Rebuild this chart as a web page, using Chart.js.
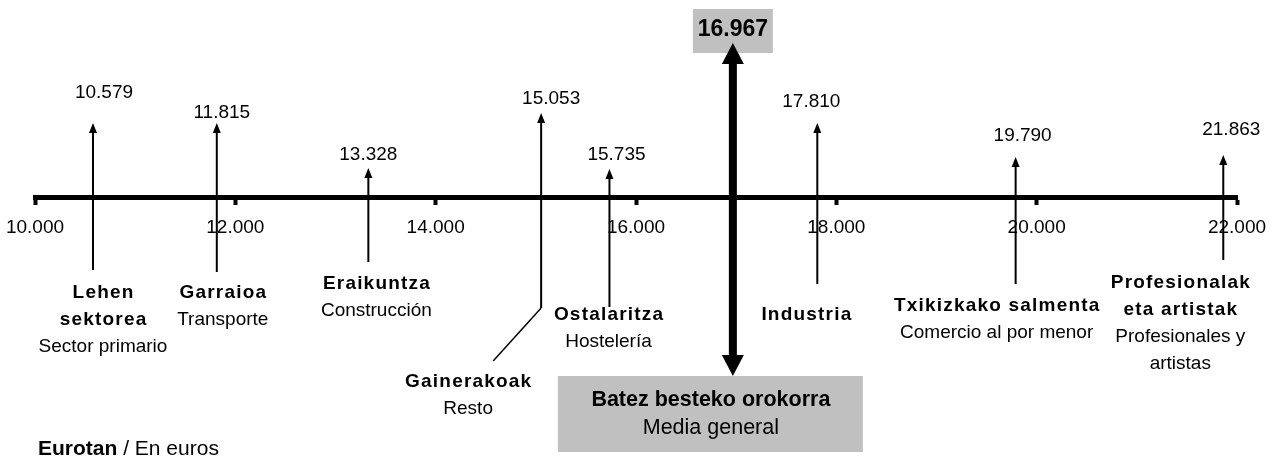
<!DOCTYPE html>
<html><head><meta charset="utf-8">
<script src="https://cdn.jsdelivr.net/npm/chart.js@4.4.1/dist/chart.umd.min.js"></script>
<style>html,body{margin:0;padding:0;background:#fff;} canvas{display:block;}</style>
</head><body>
<canvas id="c" width="1276" height="459"></canvas>
<script>
// ---------------- data ----------------
const sectorsEu = [['Lehen','sektorea'],['Garraioa'],['Eraikuntza'],['Gainerakoak'],['Ostalaritza'],['Industria'],['Txikizkako salmenta'],['Profesionalak','eta artistak']];
const sectorsEs = [['Sector primario'],['Transporte'],['Construcción'],['Resto'],['Hostelería'],[],['Comercio al por menor'],['Profesionales y','artistas']];
const salaries = [10579, 11815, 13328, 15053, 15735, 17810, 19790, 21863];
const overallMean = 16967;
const meanLabelEu = 'Batez besteko orokorra';
const meanLabelEs = 'Media general';
const tickValues = [10000, 12000, 14000, 16000, 18000, 20000, 22000];
const unitEu = 'Eurotan';
const unitEs = ' / En euros';

// ---------------- layout (units = px above the axis line) ----------------
const arrowTop    = [74, 74, 29, 84, 28, 74, 40, 42];
const arrowBottom = [-73, -75, -65, -111, -110, -87, -87, -63];
const valueDx     = [11, 5, 0, 10, 7, -6, 7, 8];
const valueY      = [104, 84, 42, 98, 42, 95, 61, 67];
const labelDx     = [10, 6, 8, -73, -1, -11, -19, -43];
const labelY      = [-96, -96, -87, -185, -118, -118, -109, -86];
const leader      = {index: 3, dx: -48, dy: -53};
const meanTop = 154, meanBottom = -179;
const LINE = 27;
const FONT = '"Liberation Sans", Arial, sans-serif';

const fmt = n => String(n).replace(/\B(?=(\d{3})+(?!\d))/g, '.');

const datasets = salaries.map((v, i) => ({
  data: [{x: v, y: arrowTop[i] - 6}, {x: v, y: arrowBottom[i]}],
  showLine: true, borderColor: '#000', borderWidth: 2, pointRadius: 0
}));
datasets.push({
  data: [{x: overallMean, y: meanTop - 18}, {x: overallMean, y: meanBottom + 18}],
  showLine: true, borderColor: '#000', borderWidth: 8, pointRadius: 0
});

function head(ctx, x, yTip, w, h, dir) {
  ctx.beginPath();
  ctx.moveTo(x, yTip);
  ctx.lineTo(x - w / 2, yTip - dir * h);
  ctx.lineTo(x + w / 2, yTip - dir * h);
  ctx.closePath();
  ctx.fill();
}
function lines(ctx, arr, x, y, bold, size, spacing) {
  ctx.font = (bold ? 'bold ' : '') + size + 'px ' + FONT;
  ctx.letterSpacing = (spacing || 0) + 'px';
  arr.forEach((t, k) => ctx.fillText(t, x + (spacing || 0) / 2, y + k * LINE));
  ctx.letterSpacing = '0px';
  return arr.length;
}

const decor = {
  id: 'decor',
  beforeDatasetsDraw(chart) {
    const ctx = chart.ctx, xs = chart.scales.x, ys = chart.scales.y;
    const mx = xs.getPixelForValue(overallMean);
    ctx.save();
    ctx.fillStyle = '#c0c0c0';
    ctx.fillRect(mx - 40, ys.getPixelForValue(188), 80, ys.getPixelForValue(144) - ys.getPixelForValue(188));
    const bt = ys.getPixelForValue(meanBottom), bb = ys.getPixelForValue(-255);
    ctx.fillRect(mx - 175, bt, 305, bb - bt);
    ctx.fillStyle = '#000';
    ctx.textAlign = 'center'; ctx.textBaseline = 'middle';
    ctx.font = 'bold 23px ' + FONT;
    ctx.fillText(fmt(overallMean), mx, ys.getPixelForValue(167));
    ctx.font = 'bold 21.5px ' + FONT;
    ctx.fillText(meanLabelEu, mx - 22, ys.getPixelForValue(-203));
    ctx.font = '21.5px ' + FONT;
    ctx.fillText(meanLabelEs, mx - 22, ys.getPixelForValue(-231));
    ctx.restore();
  },
  afterDatasetsDraw(chart) {
    const ctx = chart.ctx, xs = chart.scales.x, ys = chart.scales.y;
    ctx.save();
    ctx.fillStyle = '#000'; ctx.strokeStyle = '#000';
    ctx.textAlign = 'center'; ctx.textBaseline = 'middle';
    salaries.forEach((v, i) => {
      const x = xs.getPixelForValue(v);
      head(ctx, x, ys.getPixelForValue(arrowTop[i]), 8, 10, -1);
      ctx.font = '19px ' + FONT;
      ctx.fillText(fmt(v), x + valueDx[i], ys.getPixelForValue(valueY[i]));
      const lx = x + labelDx[i];
      const y0 = ys.getPixelForValue(labelY[i]);
      const n = lines(ctx, sectorsEu[i], lx, y0, true, 19, 1.2);
      lines(ctx, sectorsEs[i], lx, y0 + n * LINE, false, 19, 0);
      if (i === leader.index) {
        const yb = ys.getPixelForValue(arrowBottom[i]);
        ctx.lineWidth = 1.5;
        ctx.beginPath();
        ctx.moveTo(x, yb);
        ctx.lineTo(x + leader.dx, ys.getPixelForValue(arrowBottom[i] + leader.dy));
        ctx.stroke();
      }
    });
    const mx = xs.getPixelForValue(overallMean);
    head(ctx, mx, ys.getPixelForValue(meanTop), 22, 21, -1);
    head(ctx, mx, ys.getPixelForValue(meanBottom), 22, 21, 1);
    ctx.textAlign = 'left';
    const uy = ys.getPixelForValue(-252);
    ctx.font = 'bold 21px ' + FONT;
    ctx.fillText(unitEu, chart.chartArea.left + 3, uy);
    const w = ctx.measureText(unitEu).width;
    ctx.font = '21px ' + FONT;
    ctx.fillText(unitEs, chart.chartArea.left + 3 + w, uy);
    ctx.restore();
  }
};

new Chart(document.getElementById('c'), {
  type: 'scatter',
  data: {datasets},
  plugins: [decor],
  options: {
    responsive: false, animation: false, devicePixelRatio: 1, events: [],
    layout: {padding: {left: 35, right: 39, top: 0, bottom: 0}},
    plugins: {legend: {display: false}, tooltip: {enabled: false}},
    scales: {
      y: {type: 'linear', min: -262, max: 197, display: false},
      x: {
        type: 'linear', min: tickValues[0], max: tickValues[tickValues.length - 1],
        position: {y: 0},
        afterBuildTicks: s => { s.ticks = tickValues.map(v => ({value: v})); },
        afterFit: s => { s.paddingLeft = 0; s.paddingRight = 0; },
        border: {display: true, color: '#000', width: 5},
        grid: {drawOnChartArea: false, drawTicks: true, tickLength: 5, tickWidth: 4, tickColor: '#000'},
        ticks: {color: '#000', font: {family: FONT, size: 19}, padding: 14, maxRotation: 0, autoSkip: false,
                callback: v => fmt(v)}
      }
    }
  }
});
</script>
</body></html>
